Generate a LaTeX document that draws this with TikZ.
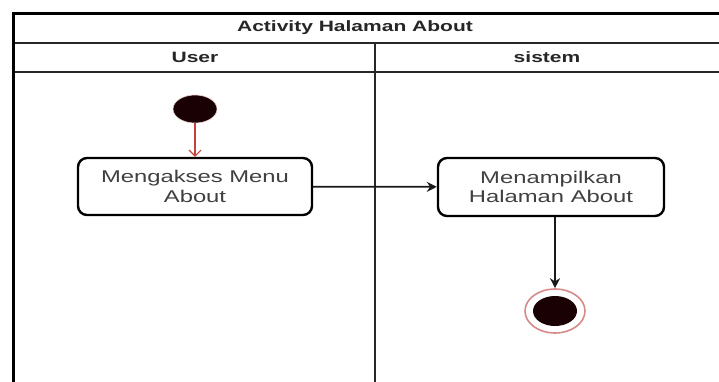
\documentclass[tikz,border=0pt]{standalone}
\usepackage{fontspec}
\setmainfont[FakeStretch=1.4]{Liberation Sans}
\usetikzlibrary{arrows.meta,shapes.geometric}

\definecolor{inkdark}{HTML}{1A0204}
\definecolor{labelgray}{HTML}{404040}
\definecolor{headink}{HTML}{262626}
\definecolor{flowred}{HTML}{C8403A}
\definecolor{ringred}{HTML}{D88A86}

\tikzset{
  lane/.style={line width=2pt, draw=black!85},
  frameline/.style={line width=3pt, draw=black},
  headtext/.style={font=\fontsize{15}{18}\selectfont\bfseries, text=headink},
  activity/.style={draw=black, line width=2.4pt, rounded corners=9pt, fill=white,
    align=center, text=labelgray, font=\fontsize{17}{19.5}\selectfont},
  startdot/.style={ellipse, fill=inkdark, draw=ringred!40, line width=0.6pt,
    minimum width=44pt, minimum height=28pt, inner sep=0pt},
  endring/.style={ellipse, draw=ringred, line width=1.6pt, fill=white,
    minimum width=60pt, minimum height=44pt, inner sep=0pt},
  enddot/.style={ellipse, fill=inkdark, minimum width=44pt, minimum height=30pt, inner sep=0pt},
  flow/.style={line width=1.8pt, draw=black!90, -{Stealth[length=10pt,width=10pt]}},
  initflow/.style={line width=1.1pt, draw=flowred, -{Straight Barb[length=6pt,width=12pt]}}
}

\begin{document}
\begin{tikzpicture}[x=1pt,y=-1pt]
\useasboundingbox (0,0) rectangle (719,381);

% swimlane frame with title and lane headers
\begin{scope}
  \clip (0,0) rectangle (719,381);
  \draw[lane] (13,43) -- (730,43);
  \draw[lane] (13,72) -- (730,72);
  \draw[lane] (375,43) -- (375,395);
  \draw[frameline] (13,395) -- (13,13) -- (730,13);
\end{scope}

\node[headtext] (title) at (355,28) {Activity Halaman About};
\node[headtext] (laneuser) at (195,57.5) {User};
\node[headtext] (lanesys) at (547,57.5) {sistem};

% activity flow
\node[startdot] (start) at (195,109) {};
\node[activity, minimum width=234pt, minimum height=57pt] (akses) at (195,186.5)
  {Mengakses Menu\\About};
\node[activity, minimum width=226pt, minimum height=58pt] (tampil) at (551,187)
  {Menampilkan\\Halaman About};
\node[endring] (final) at (555,311) {};
\node[enddot] (finaldot) at (555,311) {};

\draw[initflow] (start) -- (akses);
\draw[flow] (akses) -- (tampil);
\draw[flow] (tampil.south -| final) -- (final);
\end{tikzpicture}
\end{document}
